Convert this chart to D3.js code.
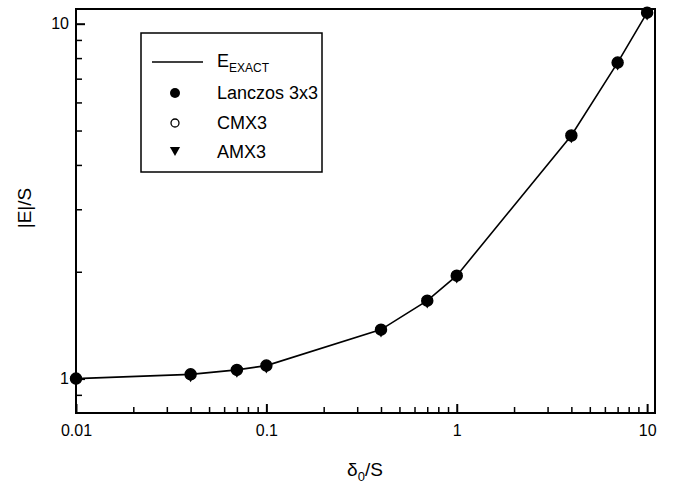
<!DOCTYPE html>
<html>
<head>
<meta charset="utf-8">
<script src="https://cdn.jsdelivr.net/npm/d3@7"></script>
<style>
    body { margin: 0; background: #fff; }
    svg text { font-family: "Liberation Sans", Arial, sans-serif; fill: #000; }
</style>
</head>
<body>
<div id="chart"></div>
<script>
var ratios = [0.01, 0.04, 0.07, 0.1, 0.4, 0.7, 1, 4, 7, 10];
var exact = [1.0, 1.028, 1.058, 1.088, 1.374, 1.658, 1.95, 4.84, 7.77, 10.74];
var lanczos = [1.0, 1.028, 1.058, 1.088, 1.374, 1.658, 1.95, 4.84, 7.77, 10.74];
var cmx3 = [1.0, 1.028, 1.058, 1.088, 1.374, 1.658, 1.95, 4.84, 7.77, 10.74];
var amx3 = [1.0, 1.028, 1.058, 1.088, 1.374, 1.658, 1.95, 4.84, 7.77, 10.74];
var xTickLabels = [0.01, 0.1, 1, 10];
var yTickLabels = [1, 10];

(function() {
    var width = 678, height = 485;
    var margin = { top: 9, right: 23, bottom: 72, left: 76 };
    var w = width - margin.left - margin.right,
        h = height - margin.top - margin.bottom;

    var svg = d3.select("#chart")
        .append("svg")
        .attr("width", width)
        .attr("height", height);

    var g = svg.append("g")
        .attr("transform", "translate(" + margin.left + "," + margin.top + ")");

    var x = d3.scaleLog().domain([0.01, 11]).range([0, w]);
    var y = d3.scaleLog().domain([0.8, 11]).range([h, 0]);

    // minor tick values
    var xMinor = [], yMinor = [];
    [0.01, 0.1, 1].forEach(function(dec) {
        for (var k = 2; k <= 9; k++) xMinor.push(dec * k);
    });
    yMinor = [0.9, 2, 3, 4, 5, 6, 7, 8, 9];

    // ticks point inward
    g.append("g")
        .attr("transform", "translate(0," + h + ")")
        .call(d3.axisBottom(x).tickValues(xMinor).tickSize(-6).tickFormat(""))
        .call(function(a) { a.select(".domain").remove(); })
        .selectAll("line").attr("stroke-width", 1.5);

    g.append("g")
        .attr("transform", "translate(0," + h + ")")
        .call(d3.axisBottom(x).tickValues(xTickLabels).tickSize(-9).tickPadding(12)
            .tickFormat(function(d) { return d3.format("")(d); }))
        .call(function(a) { a.select(".domain").remove(); })
        .call(function(a) {
            a.selectAll("line").attr("stroke-width", 2);
            a.selectAll("text").attr("font-size", 16);
        });

    g.append("g")
        .call(d3.axisLeft(y).tickValues(yMinor).tickSize(-6).tickFormat(""))
        .call(function(a) { a.select(".domain").remove(); })
        .selectAll("line").attr("stroke-width", 1.5);

    g.append("g")
        .call(d3.axisLeft(y).tickValues(yTickLabels).tickSize(-9).tickPadding(7)
            .tickFormat(function(d) { return d3.format("")(d); }))
        .call(function(a) { a.select(".domain").remove(); })
        .call(function(a) {
            a.selectAll("line").attr("stroke-width", 2);
            a.selectAll("text").attr("font-size", 16);
        });

    // frame
    g.append("rect")
        .attr("width", w)
        .attr("height", h)
        .attr("fill", "none")
        .attr("stroke", "#000")
        .attr("stroke-width", 2);

    var line = d3.line()
        .x(function(d) { return x(d[0]); })
        .y(function(d) { return y(d[1]); });

    g.append("path")
        .datum(d3.zip(ratios, exact))
        .attr("fill", "none")
        .attr("stroke", "#000")
        .attr("stroke-width", 1.6)
        .attr("d", line);

    var tri = d3.symbol().type(d3.symbolTriangle).size(60);

    g.selectAll(".amx3")
        .data(d3.zip(ratios, amx3))
        .enter().append("path")
        .attr("class", "amx3")
        .attr("d", tri)
        .attr("transform", function(d) {
            return "translate(" + x(d[0]) + "," + (y(d[1]) + 1) + ") rotate(180)";
        })
        .attr("fill", "#000");

    g.selectAll(".cmx3")
        .data(d3.zip(ratios, cmx3))
        .enter().append("circle")
        .attr("class", "cmx3")
        .attr("cx", function(d) { return x(d[0]); })
        .attr("cy", function(d) { return y(d[1]); })
        .attr("r", 5.5)
        .attr("fill", "#fff")
        .attr("stroke", "#000")
        .attr("stroke-width", 1.5);

    g.selectAll(".lanczos")
        .data(d3.zip(ratios, lanczos))
        .enter().append("circle")
        .attr("class", "lanczos")
        .attr("cx", function(d) { return x(d[0]); })
        .attr("cy", function(d) { return y(d[1]); })
        .attr("r", 5.5)
        .attr("fill", "#000");

    // legend
    var lg = svg.append("g").attr("transform", "translate(141,33)");
    lg.append("rect")
        .attr("width", 181)
        .attr("height", 139)
        .attr("fill", "#fff")
        .attr("stroke", "#000")
        .attr("stroke-width", 1.5);

    lg.append("line")
        .attr("x1", 11).attr("x2", 62)
        .attr("y1", 29).attr("y2", 29)
        .attr("stroke", "#000")
        .attr("stroke-width", 1.6);

    var ee = lg.append("text")
        .attr("x", 76).attr("y", 34)
        .attr("font-size", 18);
    ee.append("tspan").text("E");
    ee.append("tspan").attr("font-size", 12).attr("dy", 5).text("EXACT");

    lg.append("circle").attr("cx", 34).attr("cy", 60).attr("r", 5).attr("fill", "#000");
    lg.append("text").attr("x", 76).attr("y", 66).attr("font-size", 18).text("Lanczos 3x3");

    lg.append("circle").attr("cx", 34).attr("cy", 90).attr("r", 4)
        .attr("fill", "#fff").attr("stroke", "#000").attr("stroke-width", 1.3);
    lg.append("text").attr("x", 76).attr("y", 96).attr("font-size", 18).text("CMX3");

    lg.append("path")
        .attr("d", d3.symbol().type(d3.symbolTriangle).size(45))
        .attr("transform", "translate(34,117) rotate(180)")
        .attr("fill", "#000");
    lg.append("text").attr("x", 76).attr("y", 125).attr("font-size", 18).text("AMX3");

    // axis titles
    var xt = svg.append("text")
        .attr("x", 365).attr("y", 476)
        .attr("text-anchor", "middle")
        .attr("font-size", 19);
    xt.append("tspan").text("δ");
    xt.append("tspan").attr("font-size", 13).attr("dy", 5).text("0");
    xt.append("tspan").attr("dy", -5).text("/S");

    svg.append("text")
        .attr("transform", "translate(31,208) rotate(-90)")
        .attr("text-anchor", "middle")
        .attr("font-size", 19)
        .text("|E|/S");
})();
</script>
</body>
</html>
